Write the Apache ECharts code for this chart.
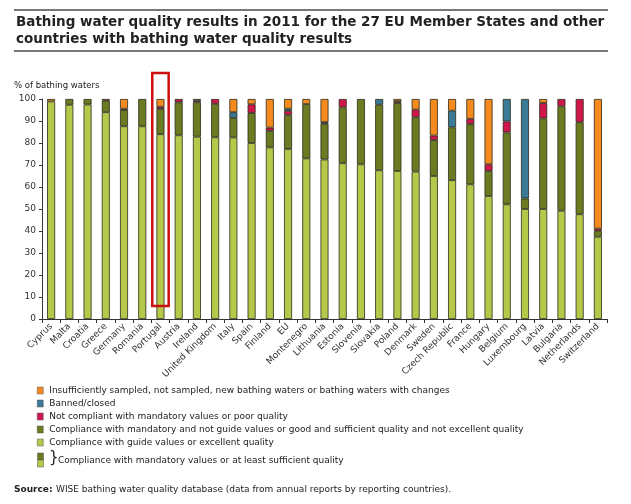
<!DOCTYPE html>
<html>
<head>
<meta charset="utf-8">
<script src="https://cdn.jsdelivr.net/npm/echarts@6/dist/echarts.min.js"></script>
<style>
html,body{margin:0;padding:0;background:#fff;}
#c{width:631px;height:504px;}
</style>
</head>
<body>
<div id="c"></div>
<script>
const categories = ['Cyprus','Malta','Croatia','Greece','Germany','Romania','Portugal','Austria','Ireland','United Kingdom','Italy','Spain','Finland','EU','Montenegro','Lithuania','Estonia','Slovenia','Slovakia','Poland','Denmark','Sweden','Czech Republic','France','Hungary','Belgium','Luxembourg','Latvia','Bulgaria','Netherlands','Switzerland'];
const excellent  = [98.9,97.4,97.5,94.0,87.6,87.6,84.0,83.5,82.9,82.6,82.5,80.0,78.0,77.3,73.0,72.5,70.8,70.3,67.6,67.3,67.0,65.0,63.1,61.2,55.9,52.1,50.0,50.0,49.2,47.6,37.4];
const sufficient = [0,2.6,2.5,5.2,7.4,12.4,11.5,15.0,15.6,15.2,8.9,13.6,7.5,15.5,24.7,16.2,25.4,29.7,29.8,30.9,24.7,16.3,24.0,27.4,11.4,32.7,4.8,41.2,47.5,41.8,2.7];
const poor       = [0,0,0,0.8,0.6,0,1.0,1.5,0.7,2.2,0,4.0,1.5,1.8,0,0,3.8,0,0,0.8,3.5,2.1,0,2.4,3.0,5.0,0,7.0,3.3,10.6,1.0];
const banned     = [0,0,0,0,0,0,0,0,0.8,0,2.6,0,0,1.0,0,0.8,0,0,2.6,0,0,0,7.6,0,0,10.2,45.2,0,0,0,0];
const notSampled = [1.1,0,0,0,4.4,0,3.5,0,0,0,6.0,2.4,13.0,4.4,2.3,10.5,0,0,0,1.0,4.8,16.6,5.3,9.0,29.7,0,0,1.8,0,0,58.9];
const yTicks = [0,10,20,30,40,50,60,70,80,90,100];
const highlighted = 'Portugal';

const names = {
  notSampled: 'Insufficiently sampled, not sampled, new bathing waters or bathing waters with changes',
  banned: 'Banned/closed',
  poor: 'Not compliant with mandatory values or poor quality',
  sufficient: 'Compliance with mandatory and not guide values or good and sufficient quality and not excellent quality',
  excellent: 'Compliance with guide values or excellent quality'
};
const colors = {excellent:'#b5c84a', sufficient:'#6b7b22', poor:'#d0174c', banned:'#3a7a96', notSampled:'#f58a1f'};
const FONT = 'DejaVu Sans';

function clean(a){ return a.map(v => v === 0 ? null : v); }
function mk(key, arr){
  return {
    name: names[key], type: 'bar', stack: 'all', barWidth: 8,
    data: clean(arr),
    itemStyle: {color: colors[key], borderColor: '#2b2b1a', borderWidth: 0.8},
    emphasis: {disabled: true}
  };
}

const chart = echarts.init(document.getElementById('c'), null, {renderer:'canvas'});
const option = {
  animation: false,
  backgroundColor: '#fff',
  grid: {left: 42, right: 24, top: 99, bottom: 185, containLabel: false},
  xAxis: {
    type: 'category', data: categories,
    axisLine: {lineStyle: {color: '#333', width: 1}},
    axisTick: {show: true, length: 4, lineStyle: {color: '#333'}},
    axisLabel: {rotate: 45, interval: 0, fontFamily: FONT, fontSize: 9, color: '#333', margin: 6}
  },
  yAxis: {
    type: 'value', min: 0, max: 100, interval: 10,
    axisLine: {show: true, lineStyle: {color: '#333'}},
    axisTick: {show: true, length: 3, lineStyle: {color: '#333'}},
    splitLine: {show: false},
    axisLabel: {fontFamily: FONT, fontSize: 9, color: '#333', margin: 6,
      formatter: v => yTicks.includes(v) ? String(v) : ''}
  },
  legend: {
    orient: 'vertical', left: 37, top: 384, padding: 0,
    itemWidth: 6, itemHeight: 7, itemGap: 0,
    icon: 'rect',
    selectedMode: false,
    itemStyle: {borderColor: '#555', borderWidth: 0.5},
    data: [names.notSampled, names.banned, names.poor, names.sufficient, names.excellent],
    textStyle: {fontFamily: FONT, fontSize: 9, color: '#222', lineHeight: 13, padding: [0,0,0,1]}
  },
  series: [
    mk('excellent', excellent),
    mk('sufficient', sufficient),
    mk('poor', poor),
    mk('banned', banned),
    mk('notSampled', notSampled)
  ]
};
chart.setOption(option);

const idx = categories.indexOf(highlighted);
const c0 = chart.convertToPixel({xAxisIndex:0}, categories[0]);
const c1 = chart.convertToPixel({xAxisIndex:0}, categories[1]);
const band = c1 - c0;
const cx = chart.convertToPixel({xAxisIndex:0}, categories[idx]);
const yTop = chart.convertToPixel({yAxisIndex:0}, 111.8);
const yBot = chart.convertToPixel({yAxisIndex:0}, 5.9);
const hw = band * 0.45;

chart.setOption({
  graphic: [
    {type:'line', shape:{x1:14,y1:10,x2:608,y2:10}, style:{stroke:'#777', lineWidth:2}},
    {type:'line', shape:{x1:14,y1:51,x2:608,y2:51}, style:{stroke:'#777', lineWidth:2}},
    {type:'text', left:16, top:14, style:{text:'Bathing water quality results in 2011 for the 27 EU Member States and other\ncountries with bathing water quality results', font:'bold 13.5px "DejaVu Sans"', fill:'#222', lineHeight:17}},
    {type:'text', left:14, top:81, style:{text:'% of bathing waters', font:'8.5px "DejaVu Sans"', fill:'#222'}},
    {type:'rect', shape:{x:cx-hw, y:yTop, width:hw*2, height:yBot-yTop}, style:{fill:'none', stroke:'#cc1010', lineWidth:2.5}, z:100},
    {type:'rect', shape:{x:37.5, y:453, width:6, height:7}, style:{fill:colors.sufficient, stroke:'#555', lineWidth:0.5}},
    {type:'rect', shape:{x:37.5, y:460, width:6, height:7}, style:{fill:colors.excellent, stroke:'#555', lineWidth:0.5}},
    {type:'text', left:49, top:451, style:{text:'}', font:'15px "DejaVu Sans"', fill:'#222'}},
    {type:'text', left:58, top:456, style:{text:'Compliance with mandatory values or at least sufficient quality', font:'9px "DejaVu Sans"', fill:'#222'}},
    {type:'text', left:14, top:485, style:{text:'Source:', font:'bold 9px "DejaVu Sans"', fill:'#222'}},
    {type:'text', left:56, top:485, style:{text:'WISE bathing water quality database (data from annual reports by reporting countries).', font:'9px "DejaVu Sans"', fill:'#222'}}
  ]
});
</script>
</body>
</html>
